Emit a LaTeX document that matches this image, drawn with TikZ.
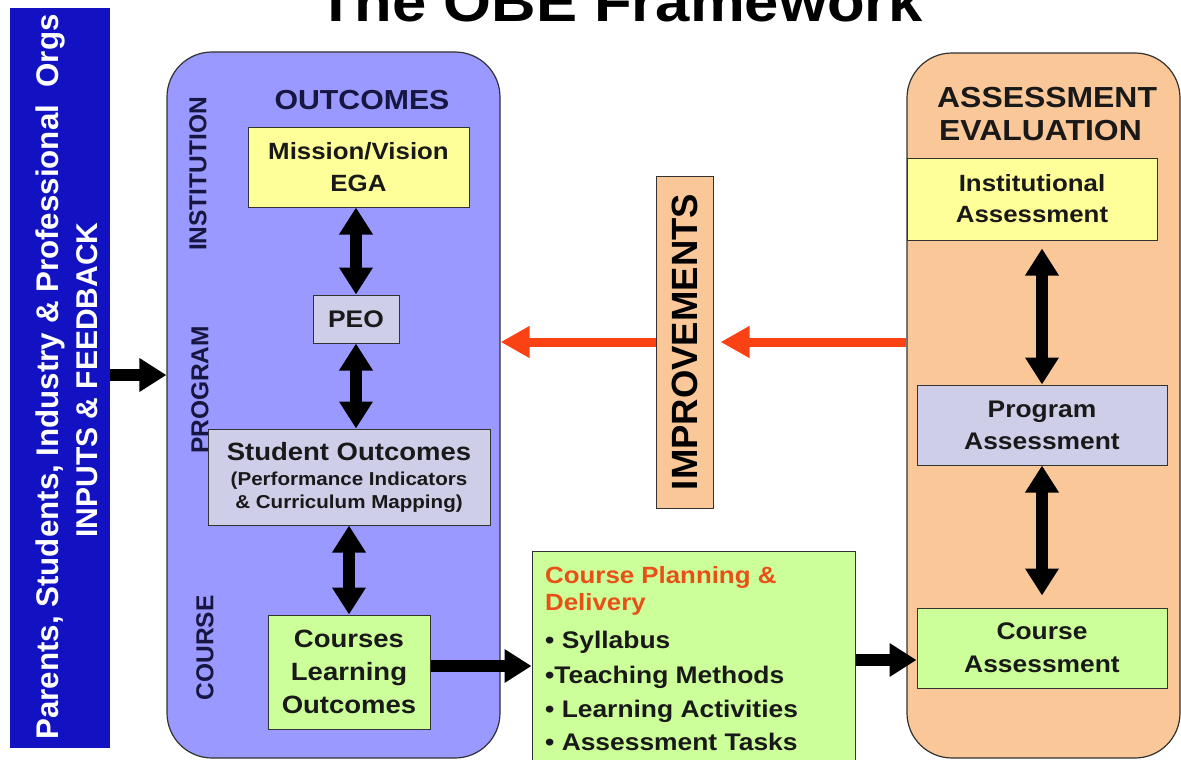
\documentclass[tikz,border=0pt]{standalone}
\usepackage{fontspec}
\setmainfont{Liberation Sans}[FakeStretch=1.1]
\newfontfamily\rotfont{Liberation Sans}
\usetikzlibrary{arrows.meta,calc}
\definecolor{bluebox}{RGB}{18,18,195}
\definecolor{purplebox}{RGB}{153,153,255}
\definecolor{orangebox}{RGB}{250,200,152}
\definecolor{yellowbox}{RGB}{255,255,153}
\definecolor{lavbox}{RGB}{206,206,232}
\definecolor{greenbox}{RGB}{204,255,153}
\definecolor{navytext}{RGB}{22,22,64}
\definecolor{redarrowc}{RGB}{250,66,20}
\definecolor{plantitle}{RGB}{232,80,24}
\definecolor{edgec}{RGB}{50,50,50}
\definecolor{boxtext}{RGB}{25,25,25}
\newcommand{\fs}[2]{\fontsize{#1}{#2}\selectfont}
\begin{document}
\begin{tikzpicture}[x=1pt,y=-1pt,
  box/.style={draw=edgec, line width=1pt, inner sep=0pt, align=center, text=boxtext},
  bigbox/.style={draw=edgec, line width=1.2pt, inner sep=0pt, rounded corners=45pt},
  rotlabel/.style={rotate=90, text=navytext, font=\rotfont\bfseries\fs{24.5}{28}},
  plantxt/.style={anchor=base west, inner sep=0pt, text=boxtext, font=\bfseries\fs{24}{30}},
  dbl/.style={line width=12pt, {Triangle[length=27pt,width=32pt]}-{Triangle[length=27pt,width=32pt]}},
  blk/.style={line width=12pt, -{Triangle[length=27pt,width=32pt]}},
  redarr/.style={draw=redarrowc, line width=9pt, -{Triangle[length=29pt,width=30pt]}, color=redarrowc}
]
\useasboundingbox (0,0) rectangle (1181,760);
\clip (0,0) rectangle (1181,760);

% title
\node[anchor=base, inner sep=0pt, font=\bfseries\fs{56}{60}] (title) at (620,22) {The OBE Framework};

% stakeholders box
\node[fill=bluebox, minimum width=100pt, minimum height=740pt, inner sep=0pt] (stake) at (60,378) {};
\node[rotate=90, anchor=base, inner sep=0pt, text=white, font=\rotfont\bfseries\fs{31.3}{36}] (stakeA) at (58,377) {Parents, Students, Industry \& Professional\ \ Orgs};
\node[rotate=90, anchor=base, inner sep=0pt, text=white, font=\rotfont\bfseries\fs{30}{36}] (stakeB) at (97,380) {INPUTS \& FEEDBACK};

% outcomes column
\node[bigbox, fill=purplebox, minimum width=333pt, minimum height=706pt] (outbox) at (333.5,405) {};
\node[anchor=base, inner sep=0pt, text=navytext, font=\bfseries\fs{27.5}{33}] (outlabel) at (362,109) {OUTCOMES};
\node[rotlabel] (lbinst) at (198,174) {INSTITUTION};
\node[rotlabel] (lbprog) at (200,390) {PROGRAM};
\node[rotlabel] (lbcourse) at (205,648) {COURSE};

\node[box, fill=yellowbox, minimum width=221pt, minimum height=80pt, font=\bfseries\fs{23.5}{32}] (mission) at (358.5,167) {Mission/Vision\\EGA};
\node[box, fill=lavbox, minimum width=86pt, minimum height=48pt, font=\bfseries\fs{24}{32}] (peo) at (356,319) {PEO};
\node[box, fill=lavbox, minimum width=282pt, minimum height=96pt, font=\bfseries\fs{25}{32}] (student) at (349,477)
  {Student Outcomes\\[-7pt]{\fs{18.7}{24}(Performance Indicators}\\[-9pt]{\fs{18.7}{24}\& Curriculum Mapping)}};
\node[box, fill=greenbox, minimum width=162pt, minimum height=114pt, font=\bfseries\fs{25}{33}] (courses) at (349,672) {Courses\\Learning\\Outcomes};

% course planning
\node[box, fill=greenbox, minimum width=323pt, minimum height=214pt] (plan) at (693.5,658) {};
\node[plantxt, text=plantitle, font=\bfseries\fs{23.5}{30}] (pl1) at (545,583) {Course Planning \&};
\node[plantxt, text=plantitle, font=\bfseries\fs{23.5}{30}] (pl2) at (545,610) {Delivery};
\node[plantxt] (pl3) at (545,648) {• Syllabus};
\node[plantxt] (pl4) at (545,683) {•Teaching Methods};
\node[plantxt] (pl5) at (545,717) {• Learning Activities};
\node[plantxt] (pl6) at (545,750) {• Assessment Tasks};

% assessment column
\node[bigbox, fill=orangebox, minimum width=273pt, minimum height=705pt] (assessbox) at (1043.5,405.5) {};
\node[anchor=base west, inner sep=0pt, text=boxtext, font=\bfseries\fs{29}{33}] (aslabel1) at (937,107) {ASSESSMENT};
\node[anchor=base west, inner sep=0pt, text=boxtext, font=\bfseries\fs{29}{33}] (aslabel2) at (939,140) {EVALUATION};
\node[box, fill=yellowbox, minimum width=250pt, minimum height=82pt, font=\bfseries\fs{23.5}{31}] (inst) at (1032,199) {Institutional\\Assessment};
\node[box, fill=lavbox, minimum width=250pt, minimum height=80pt, font=\bfseries\fs{24}{32}] (prog) at (1042,425) {Program\\Assessment};
\node[box, fill=greenbox, minimum width=250pt, minimum height=80pt, font=\bfseries\fs{24}{33}] (cassess) at (1042,648) {Course\\Assessment};

% improvements
\node[draw=edgec, line width=1pt, fill=orangebox, rotate=90, minimum width=332pt, minimum height=57pt, inner sep=0pt,
      font=\rotfont\bfseries\fs{36.5}{40}, text=black] (impr) at (684.5,342) {IMPROVEMENTS};

% arrows
\draw[dbl] (peo.north |- mission.south) -- (peo.north);
\draw[dbl] (peo.south) -- (peo.south |- student.north);
\draw[dbl] (student.south) -- (courses.north);
\draw[dbl, shorten <=8pt] (prog.north |- inst.south) -- (prog.north);
\draw[dbl, shorten >=12pt] (prog.south) -- (cassess.north);

\draw[blk] ([yshift=3pt]stake.east) -- ([yshift=3pt]stake.east -| outbox.west);
\draw[blk] ([yshift=6pt]courses.east) -- ([yshift=6pt]courses.east -| plan.west);
\draw[blk] ([yshift=-12pt]cassess.west -| plan.east) -- ([yshift=-12pt]cassess.west);

\draw[redarr] (impr.north) -- (impr.north -| outbox.east);
\draw[redarr, shorten >=7pt] (assessbox.west |- impr.south) -- (impr.south);
\end{tikzpicture}
\end{document}
